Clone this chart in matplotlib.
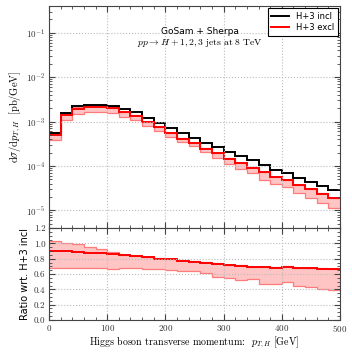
import numpy as np
import matplotlib
matplotlib.use("Agg")
import matplotlib.pyplot as plt
from matplotlib.ticker import MultipleLocator, LogLocator, NullFormatter

plt.rcParams['mathtext.fontset'] = 'cm'
plt.rcParams['font.family'] = 'cmr10'
plt.rcParams['axes.formatter.use_mathtext'] = True

# 20 GeV bins in p_T,H
edges = np.arange(0, 520, 20)

# H+3 incl, dsigma/dpT [pb/GeV]
incl = [5.6e-4, 1.57e-3, 2.2e-3, 2.4e-3, 2.4e-3, 2.28e-3, 1.9e-3, 1.65e-3,
        1.21e-3, 9.3e-4, 7.0e-4, 5.4e-4, 4.3e-4, 3.3e-4, 2.65e-4, 2.05e-4,
        1.64e-4, 1.33e-4, 1.05e-4, 8.3e-5, 6.8e-5, 5.5e-5, 4.4e-5, 3.6e-5,
        2.9e-5]

# ratio H+3 excl / H+3 incl: central, upper and lower scale variation
ratio_c = [0.90, 0.895, 0.887, 0.88, 0.87, 0.865, 0.847, 0.83, 0.82, 0.80,
           0.79, 0.77, 0.76, 0.747, 0.73, 0.713, 0.71, 0.69, 0.69, 0.68,
           0.695, 0.674, 0.674, 0.665, 0.66]
ratio_hi = [1.034, 1.008, 0.987, 0.956, 0.926, 0.89, 0.855, 0.838, 0.828,
            0.808, 0.798, 0.778, 0.768, 0.755, 0.738, 0.721, 0.718, 0.698,
            0.698, 0.688, 0.703, 0.682, 0.682, 0.673, 0.668]
ratio_lo = [0.674, 0.68, 0.68, 0.678, 0.674, 0.67, 0.68, 0.674, 0.66, 0.66,
            0.65, 0.645, 0.645, 0.61, 0.557, 0.543, 0.517, 0.53, 0.47, 0.465,
            0.49, 0.44, 0.43, 0.40, 0.387]

incl = np.array(incl)
ratio_c = np.array(ratio_c)
ratio_hi = np.array(ratio_hi)
ratio_lo = np.array(ratio_lo)
excl = incl * ratio_c

band_fill = '#ffc4c4'
band_edge = '#ff7b7b'

fig = plt.figure(figsize=(3.52, 3.52), dpi=100)
ax = fig.add_axes([0.139, 0.352, 0.827, 0.631])
rax = fig.add_axes([0.139, 0.091, 0.827, 0.261], sharex=ax)

# main panel
ax.stairs(incl * ratio_hi, edges, baseline=incl * ratio_lo, fill=True,
          color=band_fill, lw=0)
ax.stairs(incl * ratio_hi, edges, baseline=None, color=band_edge, lw=0.9)
ax.stairs(incl * ratio_lo, edges, baseline=None, color=band_edge, lw=0.9)
ax.stairs(incl, edges, baseline=None, color='black', lw=1.4, label='H+3 incl')
ax.stairs(excl, edges, baseline=None, color='red', lw=1.4, label='H+3 excl')

ax.set_yscale('log')
ax.set_ylim(4e-6, 0.4)
ax.set_xlim(0, 500)
ax.set_ylabel(r'$\mathrm{d}\sigma/\mathrm{d}p_{T,H}\ \ [\mathrm{pb/GeV}]$',
              fontsize=7.5, labelpad=2)
ax.yaxis.set_major_locator(LogLocator(base=10, numticks=10))
ax.yaxis.set_minor_locator(LogLocator(base=10, subs=np.arange(2, 10), numticks=20))
ax.yaxis.set_minor_formatter(NullFormatter())
ax.tick_params(labelbottom=False)

ax.text(0.52, 0.885, 'GoSam + Sherpa', transform=ax.transAxes, ha='center',
        va='center', fontsize=6.5, family='DejaVu Sans')
ax.text(0.52, 0.835, r'$pp \to H+1,2,3\ \mathrm{jets\ at\ 8\ TeV}$',
        transform=ax.transAxes, ha='center', va='center', fontsize=7)

leg = ax.legend(loc='upper right', fancybox=False,
                edgecolor='black', framealpha=1, handlelength=2.2,
                prop={'family': 'DejaVu Sans', 'size': 6},
                borderaxespad=0.3, labelspacing=0.3)
leg.get_frame().set_linewidth(0.8)

# ratio panel
rax.stairs(ratio_hi, edges, baseline=ratio_lo, fill=True, color=band_fill, lw=0)
rax.stairs(ratio_hi, edges, baseline=None, color=band_edge, lw=0.9)
rax.stairs(ratio_lo, edges, baseline=None, color=band_edge, lw=0.9)
rax.stairs(ratio_c, edges, baseline=None, color='red', lw=1.4)

rax.set_ylim(0, 1.2)
rax.yaxis.set_major_locator(MultipleLocator(0.2))
rax.yaxis.set_minor_locator(MultipleLocator(0.05))
rax.yaxis.set_major_formatter(plt.FuncFormatter(lambda v, p: f'{v:.1f}'))
rax.set_ylabel('Ratio wrt. H+3 incl', fontsize=7, family='DejaVu Sans',
               labelpad=3)
rax.set_xlabel(r'Higgs boson transverse momentum:  $p_{T,H}$ [GeV]',
               fontsize=7.2, labelpad=0)

for a in (ax, rax):
    a.xaxis.set_major_locator(MultipleLocator(100))
    a.xaxis.set_minor_locator(MultipleLocator(20))
    a.tick_params(which='both', direction='in', top=True, right=True,
                  labelsize=6.5, colors='#444444', labelcolor='#333333',
                  pad=2.5)
    a.tick_params(which='major', length=4)
    a.tick_params(which='minor', length=2)
    a.grid(True, which='major', ls=':', color='#bbbbbb', lw=0.8)
    for s in a.spines.values():
        s.set_color('#444444')

fig.savefig('out.png', dpi=100)
